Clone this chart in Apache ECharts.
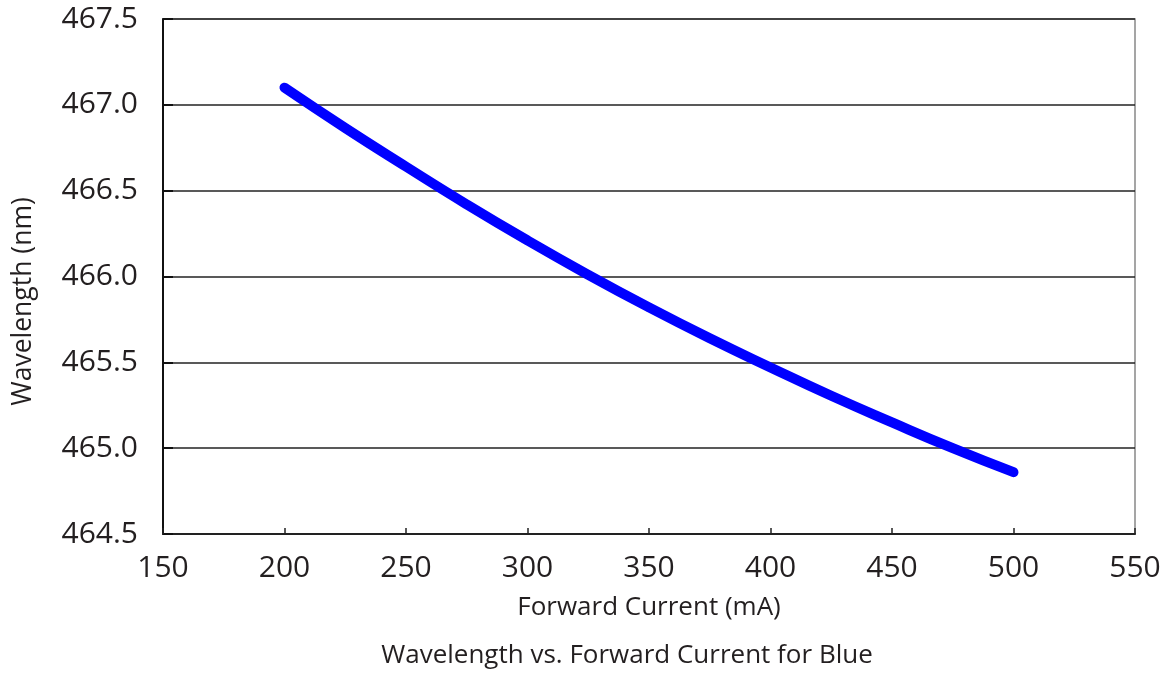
<!DOCTYPE html>
<html>
<head>
<meta charset="utf-8">
<script src="https://cdn.jsdelivr.net/npm/echarts@6/dist/echarts.min.js"></script>
<style>html,body{margin:0;padding:0;background:#fff}#c{width:1170px;height:673px}</style>
</head>
<body>
<div id="c"></div>
<script>
var current = [200, 225, 250, 275, 300, 325, 350, 375, 400, 425, 450, 475, 500];
var wavelength = [467.10, 466.865, 466.64, 466.42, 466.21, 466.01, 465.82, 465.64, 465.47, 465.305, 465.15, 465.00, 464.86];
var xTicks = [150, 550, 50];
var yTicks = [464.5, 467.5, 0.5];
var txt = '#231f20';
var font = 'Open Sans';
var chart = echarts.init(document.getElementById('c'), null, {renderer: 'canvas'});
chart.setOption({
  animation: false,
  backgroundColor: '#fff',
  title: {
    text: 'Wavelength vs. Forward Current for Blue',
    left: 622, top: 638, textAlign: 'center',
    textStyle: {fontFamily: font, fontSize: 26, fontWeight: 'normal', color: txt}
  },
  grid: {left: 163, right: 35, top: 19, bottom: 139, show: true, borderColor: '#888', borderWidth: 1.5},
  xAxis: {
    type: 'value', min: xTicks[0], max: xTicks[1], interval: xTicks[2],
    name: 'Forward Current (mA)', nameLocation: 'middle', nameGap: 61,
    nameTextStyle: {fontFamily: font, fontSize: 26, color: txt},
    axisLine: {show: true, lineStyle: {color: '#222', width: 2}},
    axisTick: {show: true, inside: true, length: 6, lineStyle: {color: '#222', width: 1.5}},
    axisLabel: {fontFamily: font, fontSize: 30, color: txt, margin: 19},
    splitLine: {show: false}
  },
  yAxis: {
    type: 'value', min: yTicks[0], max: yTicks[1], interval: yTicks[2],
    name: 'Wavelength (nm)', nameLocation: 'middle', nameGap: 126,
    nameTextStyle: {fontFamily: font, fontSize: 26.5, color: txt, padding: [0, 50, 0, 0]},
    axisLine: {show: true, lineStyle: {color: '#111', width: 2}},
    axisTick: {show: true, inside: true, length: 10, lineStyle: {color: '#111', width: 2}},
    axisLabel: {fontFamily: font, fontSize: 30, color: txt, margin: 25, formatter: function(v){return v.toFixed(1);}},
    splitLine: {show: true, lineStyle: {color: '#222', width: 1.5}}
  },
  series: [{
    type: 'line', smooth: true, symbol: 'none',
    data: current.map(function(c, i){return [c, wavelength[i]];}),
    lineStyle: {color: '#0000ff', width: 10, cap: 'round', join: 'round'}
  }]
});
</script>
</body>
</html>
